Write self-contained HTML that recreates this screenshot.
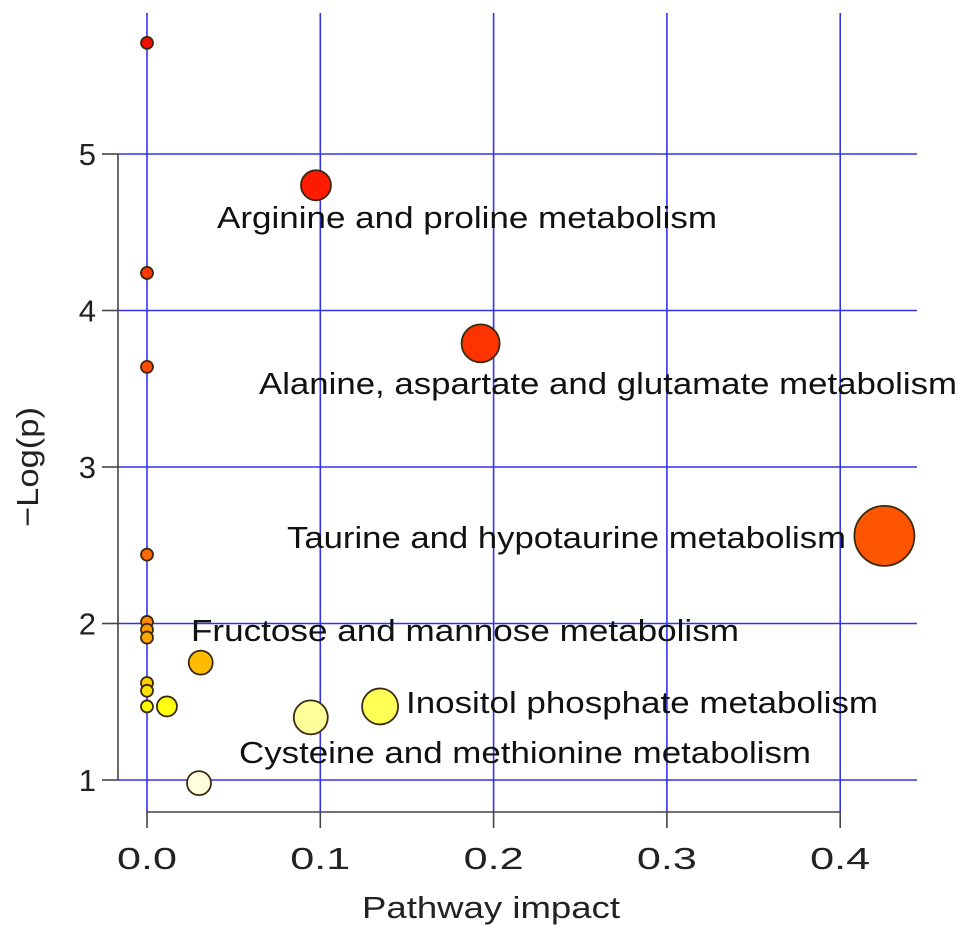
<!DOCTYPE html>
<html><head><meta charset="utf-8"><style>
body{margin:0;background:#fff;}
svg{display:block;font-family:"Liberation Sans",sans-serif;}
</style></head><body>
<svg id="chart" width="969" height="940"></svg>
<script>
const impacts=[0,0.0975,0.1925,0.4255,0,0,0,0,0,0,0,0,0,0.031,0.0115,0.0945,0.1345,0.03];
const logp=[5.71,4.80,3.79,2.56,4.24,3.64,2.44,2.01,1.96,1.91,1.62,1.57,1.47,1.75,1.47,1.40,1.47,0.98];
const radii=[6,15,19,30,6,6,6,6,6,6,6,6,6,12,10,17,18,12];
const colors=["#ee1100","#ff1a00","#ff3300","#ff5500","#ff3a00","#ff4a00","#ff6a00","#ff8800","#ff9a00","#ffa800","#ffd000","#ffe000","#ffff00","#ffbb00","#ffff10","#ffff99","#ffff55","#ffffdd"];
const labels=[null,"Arginine and proline metabolism","Alanine, aspartate and glutamate metabolism","Taurine and hypotaurine metabolism",null,null,null,null,null,null,null,null,null,"Fructose and mannose metabolism",null,"Cysteine and methionine metabolism","Inositol phosphate metabolism",null];
const labelPos=[null,[217,228,500],[259,394,698],[287,548,559],null,null,null,null,null,null,null,null,null,[191,641,548],null,[239,763,572],[406,713,472],null];
const xTicks=[0,0.1,0.2,0.3,0.4];
const xTickLabels=["0.0","0.1","0.2","0.3","0.4"];
const yTicks=[1,2,3,4,5];
const yTickLabels=["1","2","3","4","5"];
const X=v=>147+v*1733;
const Y=v=>780-(v-1)*156.5;
const svg=document.getElementById('chart');
const NS="http://www.w3.org/2000/svg";
function mk(t,a,p){const e=document.createElementNS(NS,t);for(const k in a)e.setAttribute(k,a[k]);(p||svg).appendChild(e);return e;}
xTicks.forEach((t,i)=>{const l=mk('line',{x1:X(t),x2:X(t),y1:13,y2:812,stroke:'#3333ee','stroke-width':1.6});

});
yTicks.forEach((t,i)=>{const l=mk('line',{x1:118,x2:917,y1:Y(t),y2:Y(t),stroke:'#3333ee','stroke-width':1.6});

});
const ya=mk('line',{x1:118,x2:118,y1:Y(5),y2:Y(1),stroke:'#444','stroke-width':1.6});


const xa=mk('line',{x1:X(0),x2:X(0.4),y1:812,y2:812,stroke:'#444','stroke-width':1.6});


yTicks.forEach((t,i)=>{mk('line',{x1:102,x2:118,y1:Y(t),y2:Y(t),stroke:'#444','stroke-width':1.6});
const tx=mk('text',{x:96,y:Y(t)+11,'text-anchor':'end','font-size':31,fill:'#222'});tx.textContent=yTickLabels[i];

});
xTicks.forEach((t,i)=>{mk('line',{x1:X(t),x2:X(t),y1:812,y2:828,stroke:'#444','stroke-width':1.6});
const tx=mk('text',{x:X(t)-30,y:869,'font-size':31,fill:'#222',textLength:60,lengthAdjust:'spacingAndGlyphs'});tx.textContent=xTickLabels[i];

});
const xt=mk('text',{x:362,y:918,'font-size':31,fill:'#222',textLength:258,lengthAdjust:'spacingAndGlyphs'});xt.textContent='Pathway impact';


const yt=mk('text',{x:-60,y:0,'font-size':31,fill:'#222',transform:'translate(38,467) rotate(-90)',textLength:120,lengthAdjust:'spacingAndGlyphs'});yt.textContent='\u2212Log(p)';


impacts.forEach((v,i)=>{const c=mk('circle',{cx:X(v),cy:Y(logp[i]),r:radii[i],fill:colors[i],stroke:'#3a2a10','stroke-width':1.8});

});
labels.forEach((s,i)=>{if(!s)return;const p=labelPos[i];
const t=mk('text',{x:p[0],y:p[1],'font-size':31,fill:'#111',textLength:p[2],lengthAdjust:'spacingAndGlyphs'});t.textContent=s;

});
</script>
</body></html>
